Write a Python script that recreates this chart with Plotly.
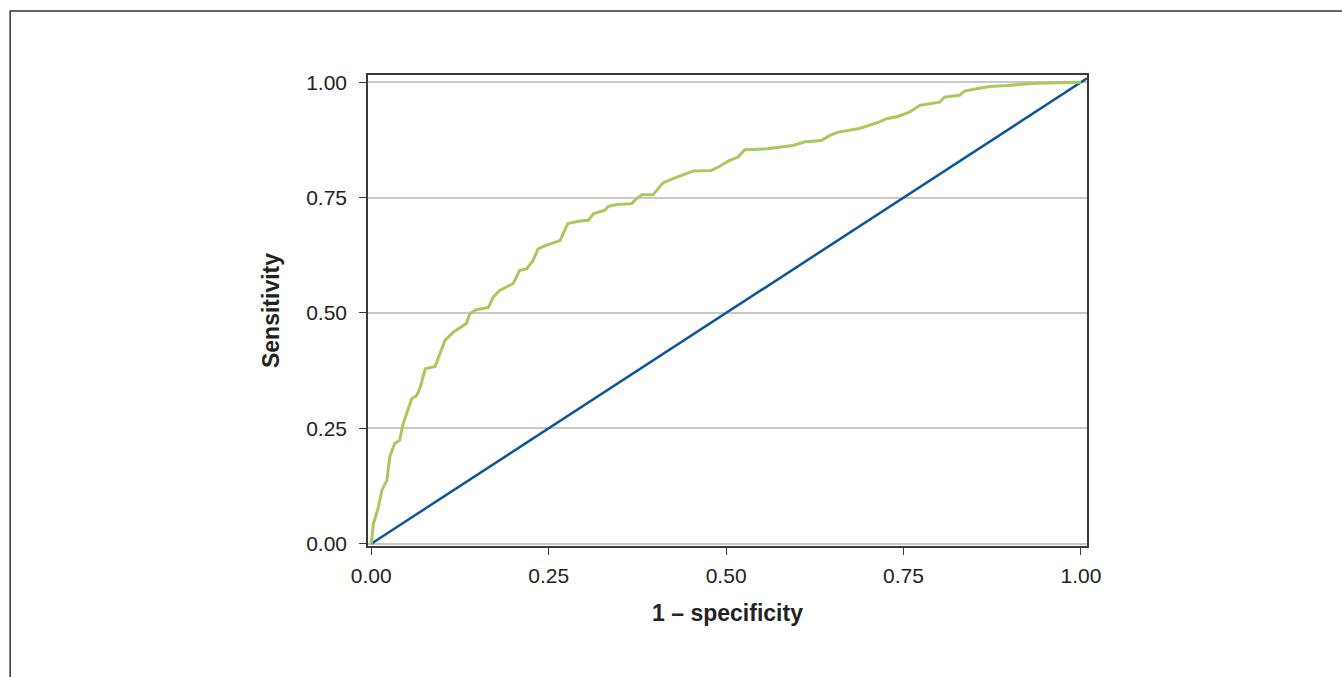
import plotly.graph_objects as go

# ROC curve vertices
fpr = [0.000, 0.003, 0.010, 0.015, 0.022, 0.026, 0.033, 0.040, 0.045, 0.050,
       0.057, 0.064, 0.069, 0.076, 0.090, 0.094, 0.104, 0.116, 0.127, 0.134,
       0.139, 0.148, 0.165, 0.172, 0.181, 0.191, 0.200, 0.209, 0.219, 0.228,
       0.235, 0.247, 0.256, 0.266, 0.277, 0.292, 0.306, 0.313, 0.329, 0.334,
       0.346, 0.367, 0.371, 0.381, 0.397, 0.411, 0.425, 0.439, 0.454, 0.479,
       0.491, 0.505, 0.517, 0.526, 0.559, 0.594, 0.611, 0.634, 0.646, 0.658,
       0.688, 0.702, 0.716, 0.726, 0.742, 0.759, 0.773, 0.801, 0.808, 0.829,
       0.836, 0.853, 0.871, 0.895, 0.937, 0.998, 1.000]
tpr = [0.000, 0.043, 0.079, 0.116, 0.137, 0.188, 0.217, 0.224, 0.260, 0.282,
       0.314, 0.321, 0.339, 0.379, 0.384, 0.401, 0.441, 0.459, 0.470, 0.477,
       0.499, 0.507, 0.512, 0.535, 0.549, 0.556, 0.564, 0.592, 0.596, 0.614,
       0.639, 0.647, 0.652, 0.657, 0.694, 0.699, 0.701, 0.715, 0.723, 0.731,
       0.735, 0.737, 0.744, 0.756, 0.756, 0.782, 0.791, 0.800, 0.808, 0.809,
       0.818, 0.831, 0.838, 0.854, 0.856, 0.863, 0.871, 0.874, 0.885, 0.892,
       0.900, 0.907, 0.914, 0.921, 0.926, 0.936, 0.950, 0.957, 0.968, 0.972,
       0.981, 0.986, 0.991, 0.993, 0.998, 1.000, 1.000]

# reference (chance) line
ref_x = [0.0, 1.0085]
ref_y = [0.0, 1.0085]

tick_vals = [0.0, 0.25, 0.5, 0.75, 1.0]
tick_text = ["0.00", "0.25", "0.50", "0.75", "1.00"]

GREEN = "#a8ca5c"
BLUE = "#0b5696"

fig = go.Figure()
fig.add_trace(go.Scatter(x=ref_x, y=ref_y, mode="lines",
                         line=dict(color=BLUE, width=2.5), showlegend=False,
                         hoverinfo="skip"))
fig.add_trace(go.Scatter(x=fpr, y=tpr, mode="lines",
                         line=dict(color=GREEN, width=3), showlegend=False))

font_family = "Liberation Sans, Arial, sans-serif"

fig.update_layout(
    width=1342, height=677,
    margin=dict(l=368, r=255, t=75, b=131),
    paper_bgcolor="white", plot_bgcolor="white",
    font=dict(family=font_family, color="#222222"),
    xaxis=dict(
        range=[-0.0046, 1.0085], tickvals=tick_vals, ticktext=tick_text,
        showgrid=False, zeroline=False,
        showline=True, linecolor="#3a3a3a", linewidth=1.5, mirror=True,
        ticks="outside", ticklen=7, tickwidth=1.3, tickcolor="#3a3a3a",
        tickfont=dict(size=21, color="#222222"), ticklabelstandoff=3,
        title=dict(text="<b>1 – specificity</b>", font=dict(size=23, color="#222222"),
                   standoff=19),
    ),
    yaxis=dict(
        range=[-0.005, 1.0158], tickvals=tick_vals, ticktext=tick_text,
        showgrid=True, gridcolor="#c8c8c8", gridwidth=2, zeroline=False,
        showline=True, linecolor="#3a3a3a", linewidth=1.5, mirror=True,
        ticks="outside", ticklen=7, tickwidth=1.3, tickcolor="#3a3a3a",
        tickfont=dict(size=21, color="#222222"), ticklabelstandoff=8,
        title=dict(text="<b>Sensitivity</b>", font=dict(size=23, color="#222222"),
                   standoff=20),
    ),
    shapes=[dict(type="path", xref="paper", yref="paper",
                 path="M -0.4977,-0.5 L -0.4977,1.136 L 1.6,1.136",
                 line=dict(color="#333333", width=1.5))],
)

fig.write_html("out.html", config={"displayModeBar": False},
               post_script="document.body.style.margin='0';document.body.style.padding='0';")
